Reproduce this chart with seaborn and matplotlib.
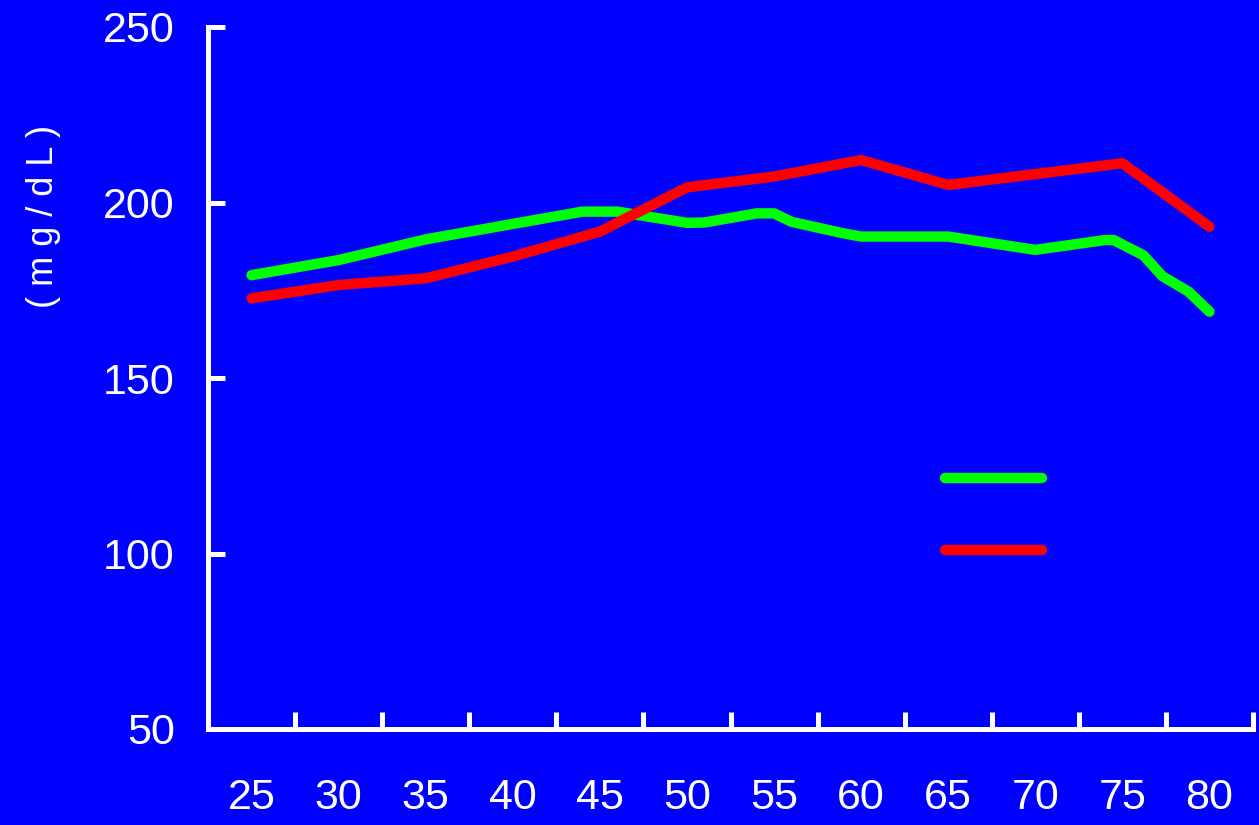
import numpy as np
import pandas as pd
import seaborn as sns
import matplotlib
matplotlib.use("Agg")
import matplotlib.pyplot as plt
from matplotlib.lines import Line2D

# values
green_age = [25, 30, 35, 40, 44, 46, 50, 51, 54, 55, 56, 59, 60, 65, 70, 74, 74.5, 76.2, 77.3, 78.8, 80]
green_val = [179.3, 183.6, 189.5, 193.9, 197.4, 197.4, 194.2, 194.3, 196.9, 196.9, 194.5, 191.2, 190.3, 190.3, 186.5, 189.3, 189.3, 185.0, 179.0, 174.6, 168.9]
red_age = [25, 30, 35, 40, 45, 50, 55, 60, 65, 70, 75, 80]
red_val = [172.7, 176.5, 178.4, 184.6, 191.7, 204.3, 207.4, 212.1, 205.0, 208.1, 211.2, 193.1]
age_labels = [25, 30, 35, 40, 45, 50, 55, 60, 65, 70, 75, 80]
y_ticks = [50, 100, 150, 200, 250]

df = pd.concat([
    pd.DataFrame({"age": green_age, "val": green_val, "grp": "g"}),
    pd.DataFrame({"age": red_age, "val": red_val, "grp": "r"}),
])

blue = "#0000FF"
sns.set_style("ticks")
plt.rcParams["font.family"] = ["Liberation Sans", "Noto Sans CJK SC"]

fig = plt.figure(figsize=(12.59, 8.25), dpi=100, facecolor=blue)
ax = fig.add_axes([208 / 1259, 1 - 729 / 825, 1045 / 1259, 702 / 825])
ax.set_facecolor(blue)

sns.lineplot(data=df, x="age", y="val", hue="grp", palette={"g": "#00FF00", "r": "#FF0000"},
             estimator=None, sort=False, linewidth=7.5, legend=False, ax=ax)
for ln in ax.get_lines():
    ln.set_solid_capstyle("round")
    ln.set_solid_joinstyle("round")

ax.set_xlim(22.5, 82.5)
ax.set_ylim(50, 250)

for s in ["top", "right"]:
    ax.spines[s].set_visible(False)
for s in ["left", "bottom"]:
    ax.spines[s].set_color("white")
    ax.spines[s].set_linewidth(3.6)

# category-style x axis: ticks between labels
ax.set_xticks(np.arange(27.5, 83, 5))
ax.set_xticklabels([])
ax.set_xticks(age_labels, minor=True)
ax.set_xticklabels([str(a) for a in age_labels], minor=True)
ax.tick_params(axis="x", which="major", direction="in", length=12, width=3.6, color="white")
ax.tick_params(axis="x", which="minor", length=0, pad=35, labelsize=31, labelcolor="white")

ax.set_yticks(y_ticks)
ax.set_yticklabels([str(v) for v in y_ticks])
ax.tick_params(axis="y", direction="in", length=12, width=3.6, color="white",
               pad=24, labelsize=31, labelcolor="white")

ax.set_xlabel("")
ax.set_ylabel("( m g / d L )", color="white", fontsize=26)
ax.yaxis.set_label_coords(-0.141, 0.730)

handles = [Line2D([], [], color="#00FF00", lw=7.5, solid_capstyle="round"),
           Line2D([], [], color="#FF0000", lw=7.5, solid_capstyle="round")]
ax.legend(handles, [" ", " "], loc="upper left", bbox_to_anchor=(0.705, 0.381),
          frameon=False, fontsize=30, handlelength=2.33, handletextpad=0.2,
          borderpad=0, borderaxespad=0, labelspacing=0.77)

fig.savefig("out.png", dpi=100, facecolor=blue)
